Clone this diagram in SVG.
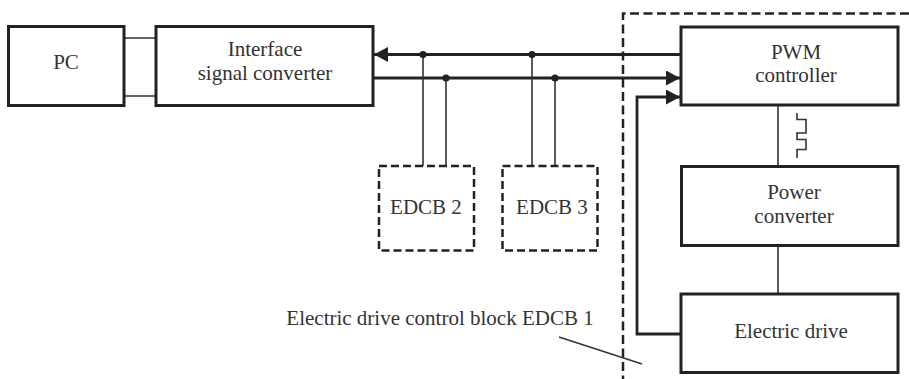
<svg xmlns="http://www.w3.org/2000/svg" width="909" height="379" viewBox="0 0 909 379">
<defs>
<style>
.box{fill:#fff;stroke:#222;stroke-width:3}
.dbox{fill:none;stroke:#222;stroke-width:2.5;stroke-dasharray:8 4}
.bus{fill:none;stroke:#222;stroke-width:2.8}
.thin{fill:none;stroke:#333;stroke-width:1.6}
.bound{fill:none;stroke:#222;stroke-width:2.5;stroke-dasharray:9 4.5}
text{font-family:'Liberation Serif','DejaVu Serif',serif;font-size:21px;fill:#333;text-anchor:middle}
.dot{fill:#222}
</style>
<marker id="arr" viewBox="0 0 14 15" refX="14" refY="7.5" markerWidth="14" markerHeight="15" markerUnits="userSpaceOnUse" orient="auto">
<path d="M0,0 L14,7.5 L0,15 Z" fill="#222"/>
</marker>
</defs>
<rect width="909" height="379" fill="#fff"/>
<g id="boundary">
<path class="bound" d="M909,13.5 H623 V379"/>
<path class="thin" d="M559,337 L642,364"/>
<text x="440" y="325" font-family="Liberation Serif, serif">Electric drive control block EDCB 1</text>
</g>
<g id="connectors">
<path class="thin" d="M124,38 H156 M124,96 H156"/>
<path class="bus" d="M681,54.5 H374" marker-end="url(#arr)"/>
<path class="bus" d="M373,78 H680" marker-end="url(#arr)"/>
<path class="bus" d="M681,334 H637 V97 H680" marker-end="url(#arr)"/>
<path class="thin" d="M423,54.5 V166 M446,78 V166 M532,54.5 V166 M555,78 V166"/>
<circle class="dot" cx="423" cy="54.5" r="3.6"/>
<circle class="dot" cx="446" cy="78" r="3.6"/>
<circle class="dot" cx="532" cy="54.5" r="3.6"/>
<circle class="dot" cx="555" cy="78" r="3.6"/>
<path class="thin" d="M778,105 V166.5 M778,245.5 V294"/>
<path class="thin" d="M797,113 V119.5 H806 V133 H797 V139.5 H806 V149.5 H797 V158"/>
</g>
<g id="pc">
<rect class="box" x="8.5" y="26.5" width="115.5" height="79"/>
<text x="66" y="69">PC</text>
</g>
<g id="interface">
<rect class="box" x="156" y="26.5" width="217" height="79"/>
<text x="265" y="56">Interface</text>
<text x="265" y="80">signal converter</text>
</g>
<g id="pwm">
<rect class="box" x="681" y="27" width="217" height="78"/>
<text x="796" y="59">PWM</text>
<text x="796" y="82">controller</text>
</g>
<g id="power">
<rect class="box" x="681.5" y="166.5" width="216.5" height="79"/>
<text x="794" y="199">Power</text>
<text x="794" y="222.5">converter</text>
</g>
<g id="drive">
<rect class="box" x="681" y="294" width="217" height="78.5"/>
<text x="791" y="338">Electric drive</text>
</g>
<g id="edcb2">
<rect class="dbox" x="379" y="166" width="95" height="84.5"/>
<text x="426" y="214">EDCB 2</text>
</g>
<g id="edcb3">
<rect class="dbox" x="502.5" y="166" width="95" height="84.5"/>
<text x="552" y="214">EDCB 3</text>
</g>
</svg>
